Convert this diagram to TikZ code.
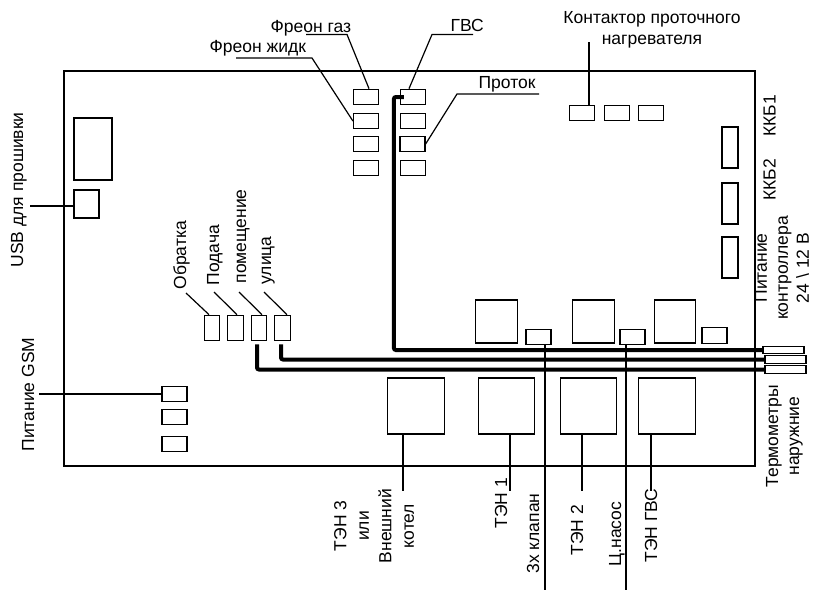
\documentclass[tikz,border=0pt]{standalone}
\usepackage{fontspec}
\setmainfont{Liberation Sans}
\usetikzlibrary{positioning}

\begin{document}
\begin{tikzpicture}[
    x=1pt, y=-1pt,
    line width=1.2pt,
    smallbox/.style={rectangle, draw, inner sep=0pt, minimum width=25pt, minimum height=15.5pt},
    tallbox/.style={rectangle, draw, inner sep=0pt, minimum width=15.5pt, minimum height=25.5pt},
    longbox/.style={rectangle, draw, inner sep=0pt, minimum width=16pt, minimum height=41pt},
    relaybox/.style={rectangle, draw, inner sep=0pt, minimum width=41.5pt, minimum height=43pt},
    powerbox/.style={rectangle, draw, inner sep=0pt, minimum width=56.5pt, minimum height=56pt},
    endbox/.style={rectangle, draw, inner sep=0pt, minimum width=41pt, minimum height=7.5pt},
    label/.style={font=\fontsize{17.5}{21}\selectfont, inner sep=0pt},
    vlabel/.style={label, rotate=90, anchor=base west},
    vblock/.style={label, rotate=90, align=center},
    wire/.style={line width=1.2pt},
    thickwire/.style={line width=4pt, rounded corners=2pt}
]
\useasboundingbox (0,0) rectangle (813,590);

% Board
\node[rectangle, draw, inner sep=0pt, minimum width=691pt, minimum height=395pt] (board) at (409.5,268.5) {};

% Nodes
\node[smallbox] (fgas) at (366,97) {};
\node[smallbox] (fliq) at (366,121) {};
\node[smallbox] (fthree) at (366,144) {};
\node[smallbox] (ffour) at (366,168) {};
\node[smallbox] (gvs) at (413,97) {};
\node[smallbox] (gtwo) at (413,121) {};
\node[smallbox] (flow) at (412.5,144) {};
\node[smallbox] (gfour) at (413,168) {};

\node[smallbox] (contone) at (582,113) {};
\node[smallbox] (conttwo) at (617,113) {};
\node[smallbox] (contthree) at (651,113) {};

\node[longbox] (kkbone) at (730,147.5) {};
\node[longbox] (kkbtwo) at (730,203.5) {};
\node[longbox] (pwr) at (730,257.5) {};

\node[rectangle, draw, inner sep=0pt, minimum width=38pt, minimum height=62pt] (mcu) at (93,149) {};
\node[rectangle, draw, inner sep=0pt, minimum width=25pt, minimum height=28pt] (usb) at (86.5,204) {};

\node[tallbox] (back) at (212,328) {};
\node[tallbox] (feed) at (235.5,328) {};
\node[tallbox] (room) at (259,328) {};
\node[tallbox] (street) at (282.5,328) {};

\node[smallbox] (gsm) at (174.5,394) {};
\node[smallbox] (gsmtwo) at (174.5,417) {};
\node[smallbox] (gsmthree) at (174.5,444) {};

\node[relaybox] (relayone) at (496.5,321.5) {};
\node[relaybox] (relaytwo) at (593.5,321.5) {};
\node[relaybox] (relaythree) at (675,321.5) {};
\node[smallbox] (valve) at (538.5,337) {};
\node[smallbox] (pump) at (632.5,337) {};
\node[smallbox] (smallthree) at (714.5,335.5) {};

\node[powerbox] (tenthree) at (416,406) {};
\node[powerbox] (tenone) at (506.5,406) {};
\node[powerbox] (tentwo) at (588.5,406) {};
\node[powerbox] (tengvs) at (667,406) {};

\node[endbox] (endone) at (783.5,350) {};
\node[endbox] (endtwo) at (785.5,359.5) {};
\node[endbox] (endthree) at (785.5,369.5) {};

% Labels
\node[label, anchor=base west] (lgas) at (270,32) {Фреон газ};
\node[label, anchor=base west] (lliq) at (209,52) {Фреон жидк};
\node[label, anchor=base west] (lgvs) at (450,31) {ГВС};
\node[label, anchor=base west] (lflow) at (478,88) {Проток};
\node[label, align=center] (lcont) at (652,30) {Контактор проточного\\нагревателя};

\node[vlabel] (lusb) at (23,268) {USB для прошивки};
\node[vlabel] (lgsm) at (34,452) {Питание GSM};
\node[vlabel] (lback) at (186,290) {Обратка};
\node[vlabel] (lfeed) at (219,286) {Подача};
\node[vlabel] (lroom) at (246,284) {помещение};
\node[vlabel] (lstreet) at (271,285) {улица};

\node[vlabel] (lkkbone) at (775.5,137) {ККБ1};
\node[vlabel] (lkkbtwo) at (775.5,201) {ККБ2};
\node[vblock] (lpwr) at (782,268) {Питание\\контроллера\\24 \textbackslash{} 12 В};
\node[vblock] (ltherm) at (784.5,436) {Термометры\\наружние};

\node[vblock, font=\fontsize{17.5}{22.5}\selectfont] (lthree) at (374,526) {ТЭН 3\\или\\Внешний\\котел};
\node[vlabel] (lone) at (507,529) {ТЭН 1};
\node[vlabel] (lvalve) at (539,574) {3х клапан};
\node[vlabel] (ltwo) at (583,556) {ТЭН 2};
\node[vlabel] (lpump) at (621,567) {Ц.насос};
\node[vlabel] (lten) at (657,563) {ТЭН ГВС};

% Free ends of the leaders
\coordinate (gasend) at (306,34.5);
\coordinate (liqend) at (236,58);
\coordinate (gvsend) at (473,34.5);
\coordinate (flowend) at (539,94);
\coordinate (contend) at (589,42);
\coordinate (usbend) at (30,206);
\coordinate (gsmend) at (39,394);
\coordinate (backend) at (186,293);
\coordinate (feedend) at (214,292);
\coordinate (roomend) at (239,292);
\coordinate (streetend) at (264,292);
\coordinate (threeend) at (403,491);
\coordinate (oneend) at (510,491);
\coordinate (twoend) at (582,491);
\coordinate (tenend) at (651,491);
\coordinate (valveend) at (545,590);
\coordinate (pumpend) at (626,590);

% Arrows
\draw[wire] (gasend) -- ++(41,0) -- ([xshift=3pt]fgas.north);
\draw[wire] (liqend) -- ++(76,0) -- (fliq.west);
\draw[wire] (gvsend) -- ++(-41,0) -- ([xshift=-4pt]gvs.north);
\draw[wire] (flowend) -- ++(-82,0) -- (flow.east);
\draw[wire] (contend) -- ([xshift=7pt]contone.north);
\draw[wire] (usbend) -- (usb.west |- usbend);
\draw[wire] (gsmend) -- (gsm.west);
\draw[wire] (backend) -- ([xshift=-3pt]back.north);
\draw[wire] (feedend) -- ([xshift=1.5pt]feed.north);
\draw[wire] (roomend) -- ([xshift=3pt]room.north);
\draw[wire] (streetend) -- ([xshift=4.5pt]street.north);
\draw[wire] (tenthree.south -| threeend) -- (threeend);
\draw[wire] (tenone.south -| oneend) -- (oneend);
\draw[wire] (tentwo.south -| twoend) -- (twoend);
\draw[wire] (tengvs.south -| tenend) -- (tenend);
\draw[wire] (valve.south -| valveend) -- (valveend);
\draw[wire] (pump.south -| pumpend) -- (pumpend);

\draw[thickwire] ([xshift=4pt]gvs.west) -- ++(-10,0) |- (endone.west);
\draw[thickwire] ([xshift=-1.5pt,yshift=-3pt]street.south) |- (endtwo.west);
\draw[thickwire] ([xshift=-2pt,yshift=-3pt]room.south) |- (endthree.west);

\end{tikzpicture}
\end{document}
